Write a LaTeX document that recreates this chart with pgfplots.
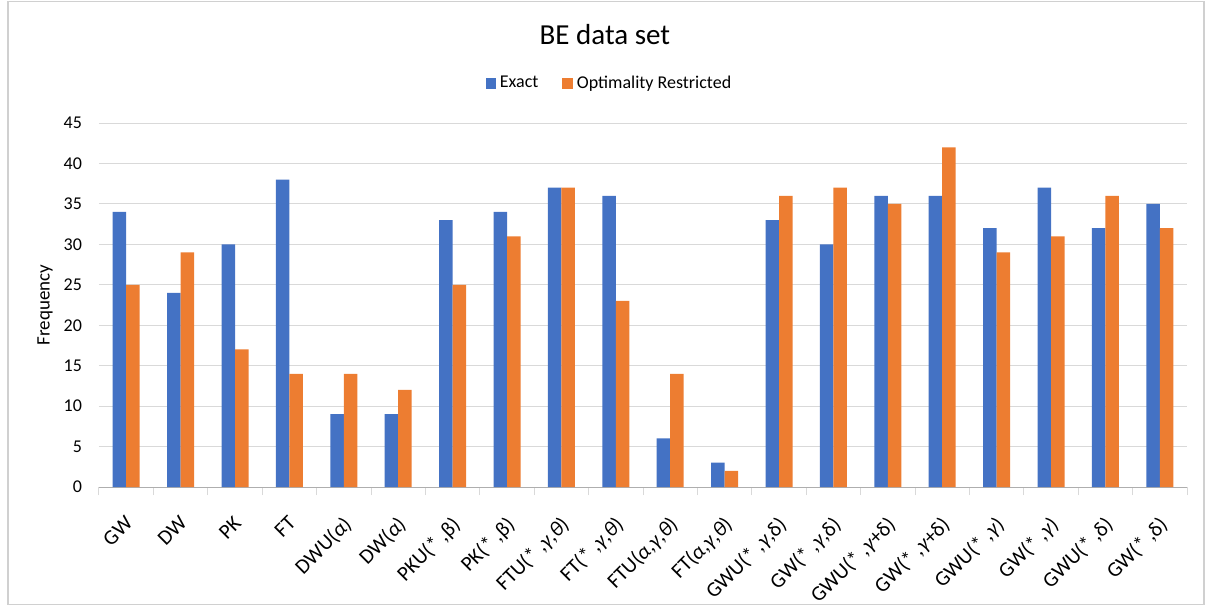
\documentclass[border=0pt]{standalone}
\usepackage{fontspec}
\setmainfont{Carlito}
\usepackage{pgfplots}
\pgfplotsset{compat=1.18}
\definecolor{exblue}{HTML}{4472C4}
\definecolor{oporange}{HTML}{ED7D31}
\definecolor{gridgray}{HTML}{D9D9D9}
\definecolor{framegray}{HTML}{D0D0D0}
\newcommand{\GrA}{\textit{α}}
\newcommand{\GrG}{\textit{γ}}
\newcommand{\GrT}{\textit{θ}}
\begin{document}
\begin{tikzpicture}
\path[use as bounding box] (0,0) rectangle (605pt,303pt);
\draw[framegray, line width=0.6pt] (4pt,0.8pt) rectangle (602pt,302.2pt);
\begin{axis}[
  at={(49.5pt,59.5pt)}, anchor=south west,
  scale only axis, width=544pt, height=182pt,
  ybar=0pt, bar width=6.75pt,
  xmin=-0.5, xmax=19.5, ymin=0, ymax=45,
  xtick={0,...,19},
  xticklabels={GW, DW, PK, FT, {DWU(\GrA)}, {DW(\GrA)}, {PKU(* ,β)}, {PK(* ,β)},
    {FTU(* ,\GrG,\GrT)}, {FT(* ,\GrG,\GrT)}, {FTU(\GrA,\GrG,\GrT)}, {FT(\GrA,\GrG,\GrT)},
    {GWU(* ,\GrG,δ)}, {GW(* ,\GrG,δ)}, {GWU(* ,\GrG+δ)}, {GW(* ,\GrG+δ)},
    {GWU(* ,\GrG)}, {GW(* ,\GrG)}, {GWU(* ,δ)}, {GW(* ,δ)}},
  xticklabel style={rotate=45, anchor=north east, font=\fontsize{10.5}{11}\selectfont, inner sep=1pt, yshift=-8pt, xshift=-9.5pt},
  ytick={0,5,...,45},
  yticklabel style={font=\fontsize{9}{10}\selectfont, xshift=-5pt},
  /pgf/number format/assume math mode=true,
  ymajorgrids, grid style={gridgray, line width=0.5pt},
  axis line style={draw=none},
  major tick length=0pt,
  xtick pos=left,
  extra x ticks={-0.5,0.5,...,19.5},
  extra x tick labels={},
  extra x tick style={major tick length=4pt, tick align=outside, tick style={gridgray, line width=0.5pt}},
  extra y ticks={0}, extra y tick labels={},
  extra y tick style={grid style={gridgray!80!black, line width=0.5pt}},
  ylabel={Frequency},
  every axis y label/.style={at={(axis description cs:0,0.5)}, xshift=-27pt, rotate=90, anchor=center, font=\fontsize{9.5}{11}\selectfont},
  title={BE data set},
  title style={at={(axis description cs:0.465,1.242)}, anchor=center, yshift=-6pt, font=\fontsize{14.5}{16}\selectfont},
  legend columns=2,
  legend style={at={(axis description cs:0.47,1.108)}, anchor=center, draw=none, fill=none,
    font=\fontsize{9}{10}\selectfont, /tikz/every even column/.append style={column sep=10pt}},
  legend image code/.code={\fill[#1] (0pt,-2.6pt) rectangle (5.2pt,2.6pt);},
]
\addplot[fill=exblue, draw=none] coordinates {
(0,34) (1,24) (2,30) (3,38) (4,9) (5,9) (6,33) (7,34) (8,37) (9,36)
(10,6) (11,3) (12,33) (13,30) (14,36) (15,36) (16,32) (17,37) (18,32) (19,35)};
\addplot[fill=oporange, draw=none] coordinates {
(0,25) (1,29) (2,17) (3,14) (4,14) (5,12) (6,25) (7,31) (8,37) (9,23)
(10,14) (11,2) (12,36) (13,37) (14,35) (15,42) (16,29) (17,31) (18,36) (19,32)};
\legend{Exact, Optimality Restricted}
\end{axis}
\end{tikzpicture}
\end{document}
